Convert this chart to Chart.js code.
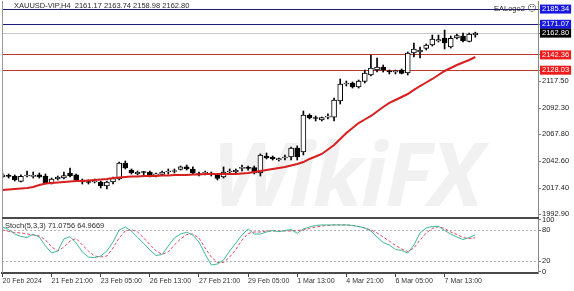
<!DOCTYPE html>
<html><head><meta charset="utf-8">
<script src="https://cdn.jsdelivr.net/npm/chart.js@4.4.1/dist/chart.umd.min.js"></script>
<style>
html,body{margin:0;padding:0;background:#fff;}
#wrap{position:relative;width:574px;height:291px;overflow:hidden;background:#fff}
#wm{position:absolute;left:212px;top:128px;font:italic 700 88px "Open Sans",sans-serif;line-height:88px;color:#000;opacity:0.05;letter-spacing:-2px;z-index:0;white-space:nowrap}
.box{position:absolute;left:0;width:574px;z-index:1}
#mainBox{top:0;height:219px}
#stochBox{top:208px;height:83px}
.t{position:absolute;z-index:2;font:7.5px "Liberation Sans",Arial,sans-serif;color:#2a2a2a;white-space:nowrap;line-height:10px}
.sm{font-family:"DejaVu Sans",sans-serif;font-size:9px;color:#444}
</style></head>
<body><div id="wrap">
<div id="wm">WikiFX</div>
<div class="box" id="mainBox"><canvas id="main"></canvas></div>
<div class="box" id="stochBox"><canvas id="stoch"></canvas></div>
<div class="t" style="left:14px;top:1px">XAUUSD-VIP,H4&nbsp; 2161.17 2163.74 2158.98 2162.80</div>
<div class="t" style="left:494px;top:3px">EALogo2 <span class="sm">☺</span></div>
<div class="t" style="left:5px;top:221px">Stoch(5,3,3) 71.0756 64.9669</div>
</div>
<script>
// ---- data ----
const tickIndex = [0, 8, 16, 24, 32, 40, 48, 56, 64, 72];
const tickLabels = ['20 Feb 2024','21 Feb 21:00','23 Feb 05:00','26 Feb 13:00','27 Feb 21:00','29 Feb 05:00','1 Mar 13:00','4 Mar 21:00','6 Mar 05:00','7 Mar 13:00'];
const priceTicks = [2185.34, 2171.07, 2162.80, 2142.36, 2128.03, 2117.50, 2092.30, 2067.80, 2042.60, 2017.40, 1992.90];
const levelPrices = [2185.34, 2171.07, 2162.80, 2142.36, 2128.03];
const stochTicks = [100, 80, 20, 0];
const stochLevels = [80, 20];

const open = [2027.9,2028.8,2028.8,2023.7,2028.8,2028.4,2029.8,2028.8,2022.3,2026.0,
2026.9,2031.6,2029.8,2023.7,2023.2,2023.2,2023.2,2019.4,2023.2,2026.0,
2041.0,2034.4,2030.7,2032.6,2032.6,2029.8,2030.2,2032.6,2033.0,2034.9,
2037.3,2035.4,2031.2,2031.6,2031.2,2029.8,2027.9,2032.6,2032.6,2035.9,
2036.3,2036.8,2031.6,2047.6,2046.6,2043.8,2045.7,2046.6,2055.1,2051.3,
2085.6,2083.2,2081.3,2084.1,2084.1,2099.2,2115.1,2116.0,2112.3,2117.4,
2123.5,2128.2,2131.0,2126.8,2126.3,2128.2,2125.4,2144.2,2145.1,2148.4,
2151.7,2155.4,2158.2,2149.8,2158.2,2160.1,2154.9,2161.17];
const high = [2031.6,2030.7,2029.8,2029.8,2033.5,2032.6,2031.6,2030.7,2026.9,2028.8,
2032.6,2036.3,2030.7,2026.0,2025.1,2026.0,2024.1,2024.1,2027.9,2041.9,
2042.9,2035.4,2033.5,2033.0,2033.5,2031.6,2033.5,2035.4,2035.4,2038.2,
2039.1,2037.3,2032.6,2033.5,2032.6,2030.7,2037.3,2035.4,2035.4,2039.1,
2038.2,2038.2,2049.5,2050.4,2047.6,2045.7,2048.5,2056.0,2057.0,2089.8,
2087.0,2085.1,2084.1,2087.0,2102.0,2119.8,2117.9,2117.0,2118.8,2128.2,
2142.3,2139.5,2132.9,2128.2,2128.2,2129.2,2145.1,2153.5,2149.8,2152.6,
2161.0,2161.0,2165.7,2160.1,2162.0,2162.9,2162.9,2163.74];
const low = [2026.9,2026.9,2024.1,2023.2,2027.9,2026.9,2026.9,2021.3,2021.3,2025.1,
2026.0,2027.9,2024.1,2021.3,2021.3,2022.3,2017.6,2016.6,2021.3,2025.1,
2035.4,2030.7,2029.8,2029.8,2027.9,2027.9,2029.8,2030.7,2031.6,2034.4,
2034.4,2030.7,2028.8,2029.8,2028.8,2025.1,2026.9,2030.7,2031.6,2033.5,
2034.4,2030.7,2028.8,2044.8,2043.8,2042.9,2043.8,2043.8,2043.8,2048.5,
2082.3,2080.4,2080.4,2082.3,2080.4,2096.3,2113.2,2111.3,2111.3,2116.0,
2122.6,2126.3,2126.3,2124.5,2124.5,2124.5,2123.5,2140.4,2139.5,2147.0,
2150.7,2154.5,2147.9,2148.8,2157.3,2154.5,2154.5,2158.98];
const close = [2029.8,2028.4,2025.1,2028.4,2029.3,2028.8,2027.9,2022.3,2026.0,2027.9,
2029.3,2028.8,2025.1,2023.2,2022.7,2023.7,2019.4,2023.2,2026.5,2041.0,
2036.3,2031.6,2032.6,2032.1,2028.8,2030.2,2032.6,2033.0,2033.5,2037.3,
2035.4,2031.6,2030.2,2032.1,2030.7,2026.5,2032.6,2033.0,2034.4,2036.3,
2035.9,2031.6,2048.5,2045.7,2044.8,2045.2,2046.2,2055.1,2046.6,2086.0,
2083.2,2082.7,2083.7,2084.6,2100.1,2115.1,2115.6,2112.3,2117.9,2125.4,
2130.1,2131.0,2128.2,2126.3,2126.8,2124.9,2144.2,2147.9,2147.0,2151.7,
2157.3,2156.8,2153.5,2157.8,2160.6,2155.4,2162.0,2162.80];
const maValues = [2015.7,2016.2,2016.6,2017.1,2017.6,2018.5,2020.4,2021.8,2022.3,2022.7,
2023.2,2023.7,2024.1,2024.1,2024.6,2025.1,2025.5,2026.0,2026.9,2027.4,
2027.9,2028.3,2028.3,2028.8,2028.8,2028.8,2029.3,2029.3,2029.8,2029.8,
2029.8,2030.2,2030.2,2030.7,2030.7,2030.7,2030.7,2030.7,2030.7,2031.2,
2031.6,2032.6,2033.5,2034.4,2035.4,2036.3,2037.3,2038.7,2040.1,2041.9,
2044.8,2047.1,2049.5,2053.7,2057.9,2063.5,2069.1,2073.8,2078.5,2081.8,
2085.1,2089.3,2093.5,2097.3,2100.1,2102.9,2105.7,2109.5,2113.2,2116.5,
2119.8,2123.5,2127.3,2130.1,2132.9,2135.2,2137.6,2140.4];
const stochK = [86,81,72.5,67.7,65.8,72,66.7,49.3,35.8,39.7,
62.9,67.3,55,37.7,28,26.7,30,39.7,57,80.3,
86,78.3,65.8,54.2,41.6,31,32.9,49.3,64.8,72.5,
75.8,70.6,57,33.8,12.6,14.5,22.2,39.7,55,70.6,
82.2,72.5,72.5,76.4,79.3,77,79.3,81.2,73.9,82.2,
86,89,90,90,90,90,90,89,87,84.1,
78.3,66.7,56.1,51.3,42.6,40.6,35.8,51.3,74.5,84.1,
87,87.4,79.3,72.5,66.7,61.9,65.4,71.0756];
const stochD = [80.3,77.4,75.4,74.5,72.5,70.6,68.7,61,47.4,39.7,
47.4,59,63.8,51.3,39.7,30,28,30,45.5,64.8,
78.3,81.2,76.4,64.8,52.2,39.7,33.3,37.7,51.3,62.9,
71.6,72.5,64.8,45.5,28,17.4,17.4,28,42.6,60.9,
73.5,76.4,76.4,78.3,78.3,78.3,78.3,78.3,79.3,80.3,
83.2,86,88,89,90,90,90,89,87,84.1,
80.3,74.5,66.7,59,50.3,43.5,38.7,45.5,60.9,74.5,
83.2,86.7,83.2,76.4,71.6,65.8,63.8,64.9669];

// ---- styles ----
const lvlLineColor = {2185.34:'#1e1e78', 2171.07:'#1e1e78', 2162.80:'#c8c8c8', 2142.36:'#c0392b', 2128.03:'#c0392b'};
const lvlBoxColor = {2185.34:'#1818e0', 2171.07:'#1818e0', 2162.80:'#000000', 2142.36:'#ee1c1c', 2128.03:'#ee1c1c'};
const isLvl = c => c.tick && levelPrices.indexOf(c.tick.value) >= 0;

Chart.defaults.font.family = "'Liberation Sans', Arial, sans-serif";
Chart.defaults.font.size = 7.5;
Chart.defaults.color = '#222';

const X_MIN = -0.08, X_MAX = 87.21;

const framePlugin = {
  id: 'frame',
  beforeDatasetsDraw(chart, args, opts) {
    if (!opts.levels) return;
    const {ctx, chartArea: a} = chart;
    const ys = chart.scales.y;
    ctx.save();
    ctx.strokeStyle = '#b4b4b4'; ctx.lineWidth = 1; ctx.setLineDash([2, 2]);
    opts.levels.forEach(v => {
      const py = Math.round(ys.getPixelForValue(v)) + 0.5;
      ctx.beginPath(); ctx.moveTo(a.left, py); ctx.lineTo(a.right, py); ctx.stroke();
    });
    ctx.restore();
  },
  afterDraw(chart, args, opts) {
    const {ctx, chartArea: a} = chart;
    ctx.save();
    ctx.strokeStyle = '#9a9a9a'; ctx.lineWidth = 1;
    ctx.beginPath(); ctx.moveTo(a.left + 0.5, a.top); ctx.lineTo(a.left + 0.5, a.bottom); ctx.stroke();
    if (opts.bottom) {
      ctx.strokeStyle = '#4a4a4a'; ctx.lineWidth = 2;
      ctx.beginPath(); ctx.moveTo(a.left, a.bottom + 1); ctx.lineTo(a.right + 1, a.bottom + 1); ctx.stroke();
    }
    ctx.restore();
  }
};

new Chart(document.getElementById('main'), {
  type: 'bar',
  data: {datasets: [
    {type: 'line', data: maValues.map((v, i) => ({x: i, y: v})), borderColor: '#d81e1e', borderWidth: 2, pointRadius: 0, tension: 0, order: -1},
    {data: open.map((o, i) => ({x: i, y: [o, close[i]]})),
     backgroundColor: open.map((o, i) => close[i] >= o ? '#ffffff' : '#000000'),
     borderColor: '#000', borderWidth: 1, borderSkipped: false, barThickness: 5, minBarLength: 1, grouped: false, order: 0},
    {data: low.map((l, i) => ({x: i, y: [l, high[i]]})), backgroundColor: '#000', borderWidth: 0, barThickness: 1, grouped: false, order: 1}
  ]},
  options: {
    animation: false, responsive: true, maintainAspectRatio: false, devicePixelRatio: 1, events: [],
    layout: {padding: {top: 1, bottom: 2, left: 2, right: 0}},
    plugins: {legend: {display: false}, tooltip: {enabled: false}, frame: {bottom: true}},
    scales: {
      x: {type: 'linear', display: false, min: X_MIN, max: X_MAX, offset: false, grid: {offset: false}},
      y: {position: 'right', min: 1990.37, max: 2192.92, beginAtZero: false,
        afterBuildTicks: s => { s.ticks = priceTicks.map(v => ({value: v})); },
        afterFit: s => { s.width = 36; s.paddingTop = 0; s.paddingBottom = 0; },
        ticks: {autoSkip: false, padding: 1, callback: v => Number(v).toFixed(2),
          color: c => isLvl(c) ? '#ffffff' : '#222',
          showLabelBackdrop: c => isLvl(c),
          backdropColor: c => isLvl(c) ? lvlBoxColor[c.tick.value] : 'rgba(0,0,0,0)',
          backdropPadding: {x: 2, y: 0}},
        grid: {color: c => isLvl(c) ? lvlLineColor[c.tick.value] : 'rgba(0,0,0,0)', lineWidth: 1, drawTicks: true, tickLength: 3, tickColor: '#777'},
        border: {display: true, color: '#888', width: 1}}
    }
  },
  plugins: [framePlugin]
});

new Chart(document.getElementById('stoch'), {
  type: 'line',
  data: {datasets: [
    {data: stochK.map((v, i) => ({x: i, y: v})), borderColor: '#3db89c', borderWidth: 1, pointRadius: 0, tension: 0},
    {data: stochD.map((v, i) => ({x: i, y: v})), borderColor: '#e0475a', borderWidth: 1, borderDash: [3, 2], pointRadius: 0, tension: 0}
  ]},
  options: {
    animation: false, responsive: true, maintainAspectRatio: false, devicePixelRatio: 1, events: [],
    layout: {padding: {top: 11, left: 2, right: 0, bottom: 0}},
    plugins: {legend: {display: false}, tooltip: {enabled: false}, frame: {levels: stochLevels}},
    scales: {
      x: {type: 'linear', min: X_MIN, max: X_MAX, offset: false,
        afterBuildTicks: s => { s.ticks = tickIndex.map(v => ({value: v})); },
        afterFit: s => { s.height = 18; s.paddingLeft = 0; s.paddingRight = 0; },
        ticks: {autoSkip: false, maxRotation: 0, minRotation: 0, align: 'start', padding: 0, font: {size: 7}, color: '#333',
          callback: v => { const k = tickIndex.indexOf(v); return k >= 0 ? tickLabels[k] : ''; }},
        grid: {drawOnChartArea: false, tickLength: 4, tickColor: '#444'},
        border: {display: true, color: '#4a4a4a', width: 2}},
      y: {position: 'right', min: -2.9, max: 101.5,
        afterBuildTicks: s => { s.ticks = stochTicks.map(v => ({value: v})); },
        afterFit: s => { s.width = 36; s.paddingTop = 0; s.paddingBottom = 0; },
        ticks: {autoSkip: false, padding: 1, callback: v => String(v)},
        grid: {drawOnChartArea: false, tickLength: 3, tickColor: '#777'},
        border: {display: true, color: '#888', width: 1}}
    }
  },
  plugins: [framePlugin]
});
</script>
</body></html>
